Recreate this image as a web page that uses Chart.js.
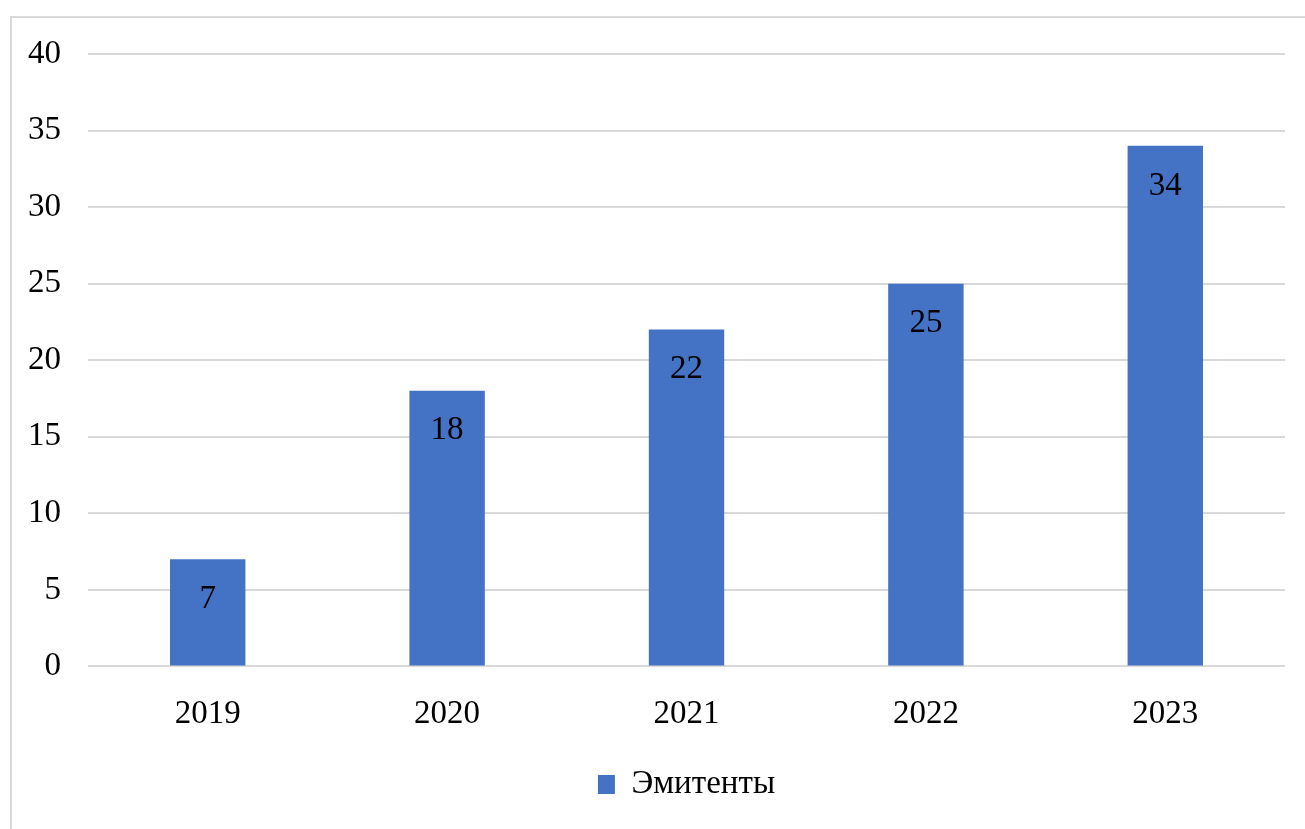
<!DOCTYPE html>
<html>
<head>
<meta charset="utf-8">
<script src="https://cdn.jsdelivr.net/npm/chart.js@4/dist/chart.umd.min.js"></script>
<style>
  html, body { margin: 0; padding: 0; background: #fff; }
  #wrap { width: 1305px; height: 829px; position: relative; }
</style>
</head>
<body>
<div id="wrap"><canvas id="emitChart"></canvas></div>
<script>
const years = ['2019', '2020', '2021', '2022', '2023'];
const emitenty = [7, 18, 22, 25, 34];
const seriesName = 'Эмитенты';
const yMin = 0, yMax = 40, yStep = 5;

const serif = 'Liberation Serif, Times New Roman, serif';

// frame around the chart, like the Excel chart border
const framePlugin = {
    id: 'frame',
    beforeDraw(chart) {
        const c = chart.ctx;
        c.save();
        c.strokeStyle = '#d9d9d9';
        c.lineWidth = 2;
        c.strokeRect(11, 17, 1320, 840);
        c.restore();
    }
};

// value labels inside the top of each bar
const valueLabels = {
    id: 'valueLabels',
    afterDatasetsDraw(chart) {
        const c = chart.ctx;
        c.save();
        c.font = '33px ' + serif;
        c.fillStyle = '#000';
        c.textAlign = 'center';
        c.textBaseline = 'middle';
        chart.getDatasetMeta(0).data.forEach((bar, i) => {
            c.fillText(emitenty[i], bar.x, bar.y + 40);
        });
        c.restore();
    }
};

let ctx = document.getElementById('emitChart').getContext('2d');
let emitChart = new Chart(ctx, {
    type: 'bar',
    data: {
        labels: years,
        datasets: [{
            label: seriesName,
            data: emitenty,
            backgroundColor: '#4472C4',
            borderWidth: 0,
            barPercentage: 0.63,
            categoryPercentage: 0.5
        }]
    },
    options: {
        responsive: true,
        maintainAspectRatio: false,
        animation: false,
        layout: {
            padding: { top: 54, right: 20, left: 0, bottom: 18 }
        },
        plugins: {
            legend: {
                display: true,
                position: 'bottom',
                fullSize: false,
                labels: {
                    color: '#000',
                    font: { family: serif, size: 33 },
                    boxWidth: 17,
                    boxHeight: 19,
                    padding: 8
                }
            },
            tooltip: { enabled: false }
        },
        scales: {
            x: {
                afterFit(s) { s.height += 6; },
                grid: { display: false },
                border: { display: false },
                ticks: {
                    color: '#000',
                    font: { family: serif, size: 33 },
                    padding: 20
                }
            },
            y: {
                min: yMin,
                max: yMax,
                afterFit(s) { s.width = 88; },
                grid: {
                    color: '#d9d9d9',
                    lineWidth: 2,
                    drawTicks: false
                },
                border: { display: false },
                ticks: {
                    stepSize: yStep,
                    color: '#000',
                    font: { family: serif, size: 33 },
                    padding: 27
                }
            }
        }
    },
    plugins: [framePlugin, valueLabels]
});
</script>
</body>
</html>
